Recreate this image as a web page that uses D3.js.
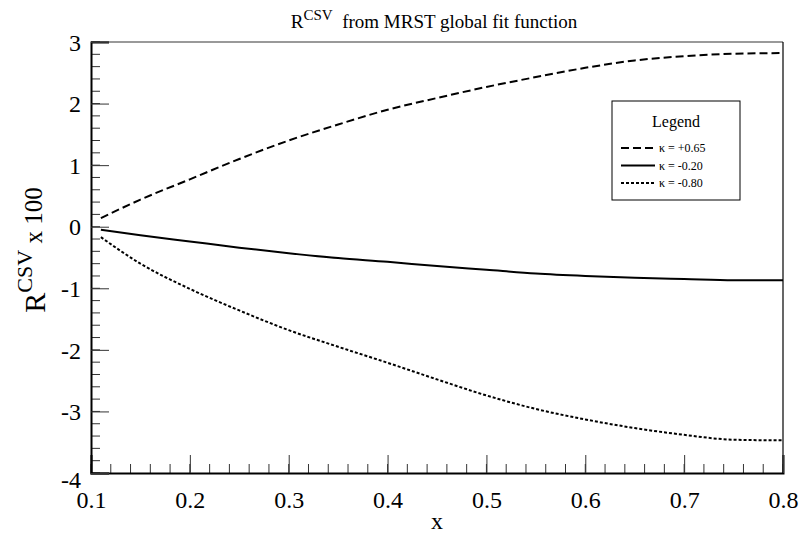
<!DOCTYPE html>
<html>
<head>
<meta charset="utf-8">
<script src="https://cdn.jsdelivr.net/npm/d3@7"></script>
<style>
  body { margin: 0; background: #fff; }
  svg, svg text { font-family: "Liberation Serif", "Times New Roman", Times, "DejaVu Serif", serif; }
</style>
</head>
<body>
<div id="chart"></div>
<script>
const xValues = [0.11, 0.15, 0.2, 0.25, 0.3, 0.35, 0.4, 0.45, 0.5, 0.55, 0.6, 0.65, 0.7, 0.75, 0.8];
const kappaPlus065 = [0.14, 0.44, 0.77, 1.10, 1.40, 1.66, 1.90, 2.09, 2.27, 2.43, 2.58, 2.70, 2.77, 2.81, 2.82];
const kappaMinus020 = [-0.05, -0.14, -0.24, -0.34, -0.43, -0.51, -0.57, -0.64, -0.70, -0.76, -0.80, -0.83, -0.85, -0.87, -0.87];
const kappaMinus080 = [-0.17, -0.60, -1.01, -1.36, -1.68, -1.95, -2.21, -2.48, -2.74, -2.96, -3.13, -3.27, -3.38, -3.46, -3.47];
const seriesLabels = ['\u03ba = +0.65', '\u03ba = -0.20', '\u03ba = -0.80'];
const xTicks = [0.1, 0.2, 0.3, 0.4, 0.5, 0.6, 0.7, 0.8];
const yTicks = [-4, -3, -2, -1, 0, 1, 2, 3];

const config = {
  width: 799,
  height: 538,
  marginLeft: 91,
  marginRight: 16,
  marginTop: 42,
  marginBottom: 65
};
const innerW = config.width - config.marginLeft - config.marginRight;
const innerH = config.height - config.marginTop - config.marginBottom;
const serif = '"Liberation Serif", "Times New Roman", Times, "DejaVu Serif", serif';

const svg = d3.select('#chart').append('svg')
  .attr('width', config.width)
  .attr('height', config.height);

const g = svg.append('g')
  .attr('transform', 'translate(' + config.marginLeft + ',' + config.marginTop + ')');

const x = d3.scaleLinear().domain([0.1, 0.8]).range([0, innerW]);
const y = d3.scaleLinear().domain([-4, 3]).range([innerH, 0]);

// frame: top gray, right thin
g.append('line').attr('x1', 0).attr('x2', innerW).attr('y1', 0).attr('y2', 0)
  .attr('stroke', '#777').attr('stroke-width', 1.5);
g.append('line').attr('x1', innerW).attr('x2', innerW).attr('y1', 0).attr('y2', innerH)
  .attr('stroke', '#000').attr('stroke-width', 1.2);

// minor ticks
const xMinor = d3.range(0.1, 0.8001, 0.02);
const yMinor = d3.range(-4, 3.001, 0.2);
g.selectAll('.xminor').data(xMinor).enter().append('line')
  .attr('x1', d => x(d)).attr('x2', d => x(d))
  .attr('y1', innerH).attr('y2', innerH - 9)
  .attr('stroke', '#333').attr('stroke-width', 1);
g.selectAll('.yminor').data(yMinor).enter().append('line')
  .attr('x1', 0).attr('x2', 9)
  .attr('y1', d => y(d)).attr('y2', d => y(d))
  .attr('stroke', '#333').attr('stroke-width', 1);

const xAxis = d3.axisBottom(x).tickValues(xTicks).tickSize(-18).tickPadding(24)
  .tickFormat(d => d.toFixed(1));
const yAxis = d3.axisLeft(y).tickValues(yTicks).tickSize(-18).tickPadding(28)
  .tickFormat(d => String(d));

const gx = g.append('g').attr('transform', 'translate(0,' + innerH + ')').call(xAxis);
const gy = g.append('g').call(yAxis);
[gx, gy].forEach(a => {
  a.attr('font-family', serif).attr('font-size', 24);
  a.select('.domain').attr('stroke', '#000').attr('stroke-width', 2);
  a.selectAll('.tick line').attr('stroke', '#333').attr('stroke-width', 1);
  a.selectAll('.tick text').attr('fill', '#000');
});
gx.selectAll('.tick text').attr('dy', '0.45em');
gy.selectAll('.tick text').attr('x', -10).attr('dy', '0.34em');
gy.selectAll('.tick text').filter(d => d === -4).attr('dy', '0.6em');

// curves
const styles = [
  { data: kappaPlus065, dash: '8,4' },
  { data: kappaMinus020, dash: null },
  { data: kappaMinus080, dash: '3,2' }
];
const line = d3.line()
  .x(d => x(d[0]))
  .y(d => y(d[1]))
  .curve(d3.curveMonotoneX);

styles.forEach(s => {
  g.append('path')
    .datum(xValues.map((xv, i) => [xv, s.data[i]]))
    .attr('d', line)
    .attr('fill', 'none')
    .attr('stroke', '#000')
    .attr('stroke-width', 2)
    .attr('stroke-dasharray', s.dash);
});

// legend
const legend = svg.append('g').attr('transform', 'translate(612,101)');
legend.append('rect')
  .attr('x', 0).attr('y', 0).attr('width', 128).attr('height', 99)
  .attr('fill', '#fff').attr('stroke', '#000').attr('stroke-width', 1);
legend.append('text')
  .attr('x', 64).attr('y', 26)
  .attr('text-anchor', 'middle')
  .style('font-size', '16px')
  .text('Legend');
styles.forEach((s, i) => {
  const ly = 47 + i * 17.5;
  legend.append('line')
    .attr('x1', 9).attr('x2', 43).attr('y1', ly).attr('y2', ly)
    .attr('stroke', '#000').attr('stroke-width', 2)
    .attr('stroke-dasharray', s.dash);
  legend.append('text')
    .attr('x', 47).attr('y', ly).attr('dy', '0.35em')
    .style('font-size', '12px')
    .text(seriesLabels[i]);
});

// title
const title = svg.append('text')
  .attr('x', 434).attr('y', 28)
  .attr('text-anchor', 'middle')
  .style('font-size', '19px');
title.append('tspan').text('R');
title.append('tspan').attr('dy', -8).style('font-size', '15px').text('CSV');
title.append('tspan').attr('dy', 8).text('\u2002from MRST global fit function');

// axis titles
svg.append('text')
  .attr('x', config.marginLeft + innerW / 2).attr('y', 529)
  .attr('text-anchor', 'middle')
  .style('font-size', '24px')
  .text('x');

const ylab = svg.append('text')
  .attr('transform', 'translate(45,250) rotate(-90)')
  .attr('text-anchor', 'middle')
  .style('font-size', '30px');
ylab.append('tspan').text('R');
ylab.append('tspan').attr('dy', -13).style('font-size', '22px').text('CSV');
ylab.append('tspan').attr('dy', 10).style('font-size', '25px').text(' x 100');
</script>
</body>
</html>
